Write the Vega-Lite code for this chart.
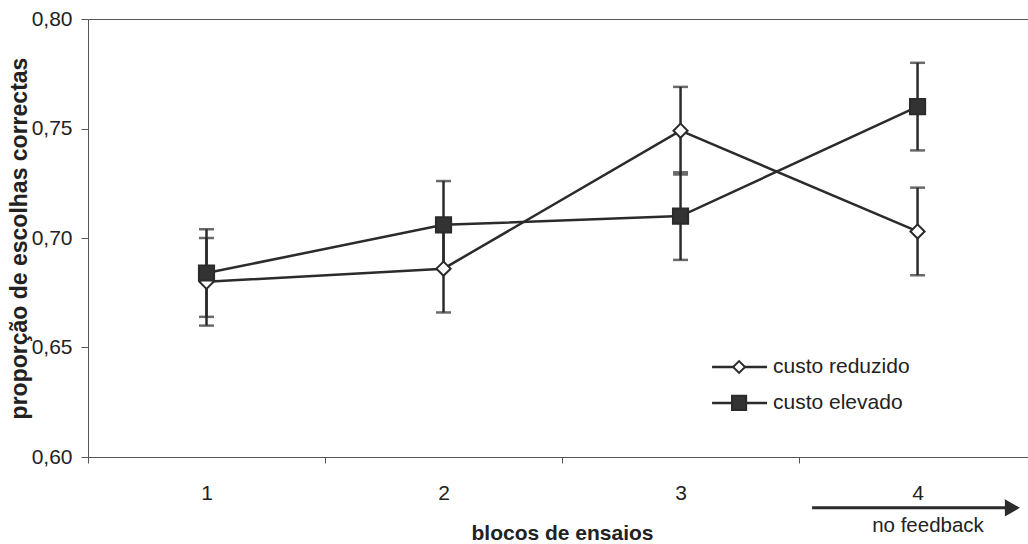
{
  "$schema": "https://vega.github.io/schema/vega-lite/v6.json",
  "width": 940,
  "height": 438,
  "autosize": {"type": "none"},
  "padding": {"left": 88, "top": 19, "right": 0, "bottom": 87},
  "background": "white",
  "config": {
    "view": {"stroke": null},
    "font": "Liberation Sans",
    "axis": {"labelFont": "Liberation Sans", "titleFont": "Liberation Sans", "labelColor": "#222", "titleColor": "#222"}
  },
  "data": {
    "values": [
      {"bloco": 1, "serie": "custo reduzido", "media": 0.680, "inf": 0.660, "sup": 0.700},
      {"bloco": 2, "serie": "custo reduzido", "media": 0.686, "inf": 0.666, "sup": 0.706},
      {"bloco": 3, "serie": "custo reduzido", "media": 0.749, "inf": 0.729, "sup": 0.769},
      {"bloco": 4, "serie": "custo reduzido", "media": 0.703, "inf": 0.683, "sup": 0.723},
      {"bloco": 1, "serie": "custo elevado", "media": 0.684, "inf": 0.664, "sup": 0.704},
      {"bloco": 2, "serie": "custo elevado", "media": 0.706, "inf": 0.686, "sup": 0.726},
      {"bloco": 3, "serie": "custo elevado", "media": 0.710, "inf": 0.690, "sup": 0.730},
      {"bloco": 4, "serie": "custo elevado", "media": 0.760, "inf": 0.740, "sup": 0.780}
    ]
  },
  "layer": [
    {
      "mark": {"type": "line", "color": "#2b2b2b", "strokeWidth": 2.5},
      "encoding": {
        "x": {
          "field": "bloco", "type": "quantitative", "title": "blocos de ensaios",
          "scale": {"domain": [0.5, 4.466], "nice": false, "zero": false},
          "axis": {
            "values": [0.5, 1, 1.5, 2, 2.5, 3, 3.5, 4],
            "labelExpr": "datum.value % 1 == 0 ? format(datum.value, 'd') : ''",
            "tickOpacity": {"condition": {"test": "datum.value % 1 == 0", "value": 0}, "value": 1},
            "grid": false,
            "domainColor": "#555", "tickColor": "#555", "tickSize": 6,
            "labelFontSize": 21, "labelPadding": 19, "labelFlush": false, "labelOverlap": false,
            "titleFontSize": 21, "titleFontWeight": "bold",
            "titleX": 474, "titleY": 76, "titleBaseline": "middle", "titleAlign": "center", "titleAnchor": null
          }
        },
        "y": {
          "field": "media", "type": "quantitative", "title": "proporção de escolhas correctas",
          "scale": {"domain": [0.6, 0.8], "nice": false, "zero": false},
          "axis": {
            "values": [0.6, 0.65, 0.7, 0.75, 0.8],
            "labelExpr": "replace(format(datum.value, '.2f'), '.', ',')",
            "grid": true,
            "gridColor": "#555",
            "gridOpacity": {"condition": {"test": "datum.value >= 0.799", "value": 1}, "value": 0},
            "domainColor": "#555", "tickColor": "#555", "tickSize": 7,
            "labelFontSize": 21, "labelPadding": 9,
            "titleFontSize": 23, "titleFontWeight": "bold",
            "titleAngle": -90, "titleX": -69, "titleY": 219, "titleBaseline": "middle", "titleAlign": "center"
          }
        },
        "detail": {"field": "serie"}
      }
    },
    {
      "mark": {
        "type": "errorbar",
        "ticks": {"size": 15, "thickness": 2.5, "color": "#2b2b2b"},
        "rule": {"strokeWidth": 2.5, "color": "#2b2b2b"}
      },
      "encoding": {
        "x": {"field": "bloco", "type": "quantitative", "title": "blocos de ensaios"},
        "y": {"field": "inf", "type": "quantitative", "title": "proporção de escolhas correctas"},
        "y2": {"field": "sup"},
        "detail": {"field": "serie"}
      }
    },
    {
      "mark": {"type": "point", "filled": false, "stroke": "#2b2b2b", "strokeWidth": 2, "opacity": 1},
      "encoding": {
        "x": {"field": "bloco", "type": "quantitative", "title": "blocos de ensaios"},
        "y": {"field": "media", "type": "quantitative", "title": "proporção de escolhas correctas"},
        "shape": {
          "field": "serie", "type": "nominal",
          "scale": {"domain": ["custo reduzido", "custo elevado"], "range": ["diamond", "square"]},
          "legend": null
        },
        "fill": {"condition": {"test": "datum.serie === 'custo elevado'", "value": "#333333"}, "value": "white"},
        "size": {"condition": {"test": "datum.serie === 'custo elevado'", "value": 230}, "value": 200}
      }
    },
    {
      "data": {"values": [{"serie": "custo reduzido"}]},
      "mark": {"type": "rule", "color": "#2b2b2b", "strokeWidth": 2.5},
      "encoding": {"x": {"datum": 3.133}, "x2": {"datum": 3.365}, "y": {"datum": 0.6411}}
    },
    {
      "data": {"values": [{"serie": "custo reduzido"}]},
      "mark": {"type": "point", "shape": "diamond", "filled": true, "fill": "white", "stroke": "#2b2b2b", "strokeWidth": 2, "size": 140, "opacity": 1},
      "encoding": {"x": {"datum": 3.247}, "y": {"datum": 0.6411}}
    },
    {
      "data": {"values": [{"serie": "custo reduzido"}]},
      "mark": {"type": "text", "font": "Liberation Sans", "fontSize": 21, "color": "#222", "baseline": "middle", "align": "left"},
      "encoding": {"x": {"datum": 3.39}, "y": {"datum": 0.6411}, "text": {"field": "serie"}}
    },
    {
      "data": {"values": [{"serie": "custo elevado"}]},
      "mark": {"type": "rule", "color": "#2b2b2b", "strokeWidth": 2.5},
      "encoding": {"x": {"datum": 3.133}, "x2": {"datum": 3.365}, "y": {"datum": 0.6247}}
    },
    {
      "data": {"values": [{"serie": "custo elevado"}]},
      "mark": {"type": "point", "shape": "square", "filled": true, "fill": "#333333", "stroke": "#2b2b2b", "strokeWidth": 2, "size": 200, "opacity": 1},
      "encoding": {"x": {"datum": 3.247}, "y": {"datum": 0.6247}}
    },
    {
      "data": {"values": [{"serie": "custo elevado"}]},
      "mark": {"type": "text", "font": "Liberation Sans", "fontSize": 21, "color": "#222", "baseline": "middle", "align": "left"},
      "encoding": {"x": {"datum": 3.39}, "y": {"datum": 0.6247}, "text": {"field": "serie"}}
    },
    {
      "data": {"values": [{"nota": "no feedback"}]},
      "mark": {"type": "rule", "color": "#2b2b2b", "strokeWidth": 3},
      "encoding": {
        "x": {"datum": 3.555},
        "x2": {"datum": 4.37},
        "y": {"datum": 0.5768}
      }
    },
    {
      "data": {"values": [{"nota": "no feedback"}]},
      "mark": {"type": "point", "shape": "triangle-right", "filled": true, "color": "#2b2b2b", "size": 300, "opacity": 1},
      "encoding": {
        "x": {"datum": 4.4},
        "y": {"datum": 0.5768}
      }
    },
    {
      "data": {"values": [{"nota": "no feedback"}]},
      "mark": {"type": "text", "font": "Liberation Sans", "fontSize": 20.5, "color": "#222", "baseline": "middle", "align": "center"},
      "encoding": {
        "x": {"datum": 4.044},
        "y": {"datum": 0.5685},
        "text": {"field": "nota"}
      }
    }
  ]
}
